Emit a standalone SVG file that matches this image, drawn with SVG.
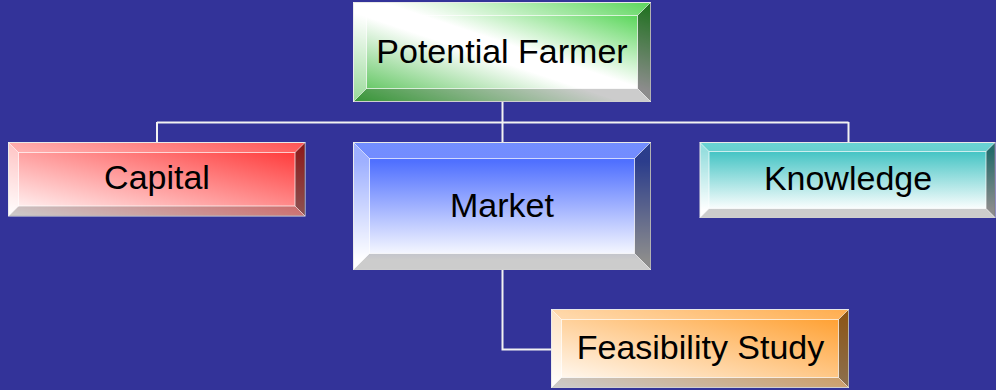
<svg xmlns="http://www.w3.org/2000/svg" width="996" height="390" viewBox="0 0 996 390">
<defs>
<linearGradient id="gGreen" x1="1" y1="0" x2="0" y2="1">
<stop offset="0" stop-color="#33cc33"/><stop offset="0.45" stop-color="#ffffff"/><stop offset="0.55" stop-color="#ffffff"/><stop offset="1" stop-color="#44bb44"/>
</linearGradient>
<linearGradient id="gRed" x1="1" y1="0" x2="0" y2="1">
<stop offset="0" stop-color="#ff2a2a"/><stop offset="1" stop-color="#ffffff"/>
</linearGradient>
<linearGradient id="gBlue" x1="0" y1="0" x2="0" y2="1">
<stop offset="0" stop-color="#4f72ff"/><stop offset="0.15" stop-color="#5070ff"/><stop offset="0.92" stop-color="#ffffff"/>
</linearGradient>
<linearGradient id="gTeal" x1="0" y1="0" x2="0" y2="1">
<stop offset="0" stop-color="#44c8c8"/><stop offset="0.12" stop-color="#44c4c4"/><stop offset="0.9" stop-color="#ffffff"/>
</linearGradient>
<linearGradient id="gOrange" x1="1" y1="0" x2="0" y2="1">
<stop offset="0" stop-color="#ff9922"/><stop offset="1" stop-color="#ffffff"/>
</linearGradient>
</defs>
<style>
.top{fill:#fff;fill-opacity:.2}
.left{fill:#fff;fill-opacity:.45}
.right{fill:#000;fill-opacity:.45}
.bottom{fill:#000;fill-opacity:.2}
.inner{fill:none;stroke:#fff;stroke-opacity:.7;stroke-width:1}
.outer{stroke:#e6e6e6;stroke-width:1}
.diag{stroke:#fff;stroke-opacity:.6;stroke-width:1}
.lbl{font-family:"Liberation Sans",Arial,sans-serif;font-size:34px;fill:#000;text-anchor:middle}
.conn{fill:none;stroke:#f2f2f2;stroke-width:2}
</style>
<rect x="0" y="0" width="996" height="390" fill="#333399"/>

<g id="connectors">
<path class="conn" d="M502.5,102 V122.5 M157,122.5 H848.5 M157,122 V142.5 M502.5,122 V142.5 M848.5,122 V142.5"/>
<path class="conn" d="M502.5,270 V349.5 H551.5"/>
</g>

<g id="potential-farmer">
<rect class="outer" x="353.5" y="2.5" width="297" height="99" fill="url(#gGreen)"/>
<polygon class="top" points="353.5,2.5 650.5,2.5 637.5,15.5 366.5,15.5"/>
<polygon class="left" points="353.5,2.5 366.5,15.5 366.5,88.5 353.5,101.5"/>
<polygon class="right" points="650.5,2.5 650.5,101.5 637.5,88.5 637.5,15.5"/>
<polygon class="bottom" points="353.5,101.5 366.5,88.5 637.5,88.5 650.5,101.5"/>
<rect class="inner" x="366.5" y="15.5" width="271" height="73"/>
<path class="diag" d="M353.5,2.5 L366.5,15.5 M650.5,2.5 L637.5,15.5 M353.5,101.5 L366.5,88.5 M650.5,101.5 L637.5,88.5"/>
<text class="lbl" x="502" y="63">Potential Farmer</text>
</g>

<g id="capital">
<rect class="outer" x="8.5" y="142.5" width="296.5" height="73.5" fill="url(#gRed)"/>
<polygon class="top" points="8.5,142.5 305,142.5 295,152.5 18.5,152.5"/>
<polygon class="left" points="8.5,142.5 18.5,152.5 18.5,206 8.5,216"/>
<polygon class="right" points="305,142.5 305,216 295,206 295,152.5"/>
<polygon class="bottom" points="8.5,216 18.5,206 295,206 305,216"/>
<rect class="inner" x="18.5" y="152.5" width="276.5" height="53.5"/>
<path class="diag" d="M8.5,142.5 L18.5,152.5 M305,142.5 L295,152.5 M8.5,216 L18.5,206 M305,216 L295,206"/>
<text class="lbl" x="157" y="189">Capital</text>
</g>

<g id="market">
<rect class="outer" x="353.5" y="142.5" width="297" height="127" fill="url(#gBlue)"/>
<polygon class="top" points="353.5,142.5 650.5,142.5 634.5,158.5 369.5,158.5"/>
<polygon class="left" points="353.5,142.5 369.5,158.5 369.5,253.5 353.5,269.5"/>
<polygon class="right" points="650.5,142.5 650.5,269.5 634.5,253.5 634.5,158.5"/>
<polygon class="bottom" points="353.5,269.5 369.5,253.5 634.5,253.5 650.5,269.5"/>
<rect class="inner" x="369.5" y="158.5" width="265" height="95"/>
<path class="diag" d="M353.5,142.5 L369.5,158.5 M650.5,142.5 L634.5,158.5 M353.5,269.5 L369.5,253.5 M650.5,269.5 L634.5,253.5"/>
<text class="lbl" x="502" y="217">Market</text>
</g>

<g id="knowledge">
<rect class="outer" x="700" y="142.5" width="295" height="75" fill="url(#gTeal)"/>
<polygon class="top" points="700,142.5 995,142.5 986,151.5 709,151.5"/>
<polygon class="left" points="700,142.5 709,151.5 709,208.5 700,217.5"/>
<polygon class="right" points="995,142.5 995,217.5 986,208.5 986,151.5"/>
<polygon class="bottom" points="700,217.5 709,208.5 986,208.5 995,217.5"/>
<rect class="inner" x="709" y="151.5" width="277" height="57"/>
<path class="diag" d="M700,142.5 L709,151.5 M995,142.5 L986,151.5 M700,217.5 L709,208.5 M995,217.5 L986,208.5"/>
<text class="lbl" x="848" y="190">Knowledge</text>
</g>

<g id="feasibility-study">
<rect class="outer" x="551.5" y="309.5" width="297" height="78" fill="url(#gOrange)"/>
<polygon class="top" points="551.5,309.5 848.5,309.5 838.5,319.5 561.5,319.5"/>
<polygon class="left" points="551.5,309.5 561.5,319.5 561.5,377.5 551.5,387.5"/>
<polygon class="right" points="848.5,309.5 848.5,387.5 838.5,377.5 838.5,319.5"/>
<polygon class="bottom" points="551.5,387.5 561.5,377.5 838.5,377.5 848.5,387.5"/>
<rect class="inner" x="561.5" y="319.5" width="277" height="58"/>
<path class="diag" d="M551.5,309.5 L561.5,319.5 M848.5,309.5 L838.5,319.5 M551.5,387.5 L561.5,377.5 M848.5,387.5 L838.5,377.5"/>
<text class="lbl" x="700.5" y="359">Feasibility Study</text>
</g>
</svg>
